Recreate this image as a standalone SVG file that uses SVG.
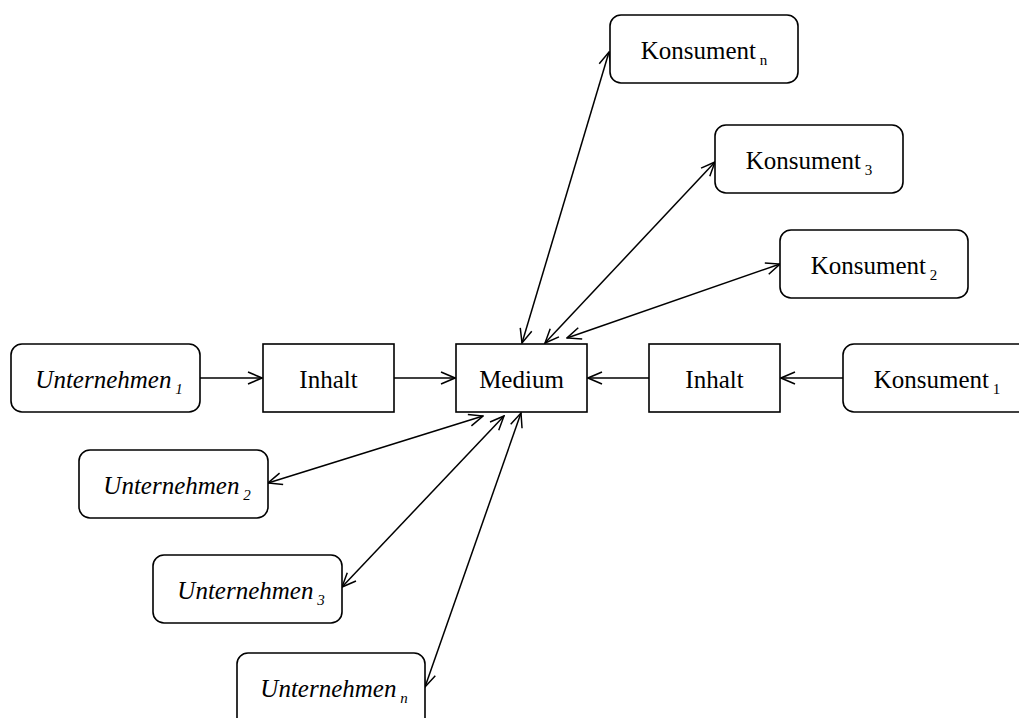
<svg xmlns="http://www.w3.org/2000/svg" width="1019" height="718" viewBox="0 0 1019 718" font-family="'Liberation Serif', 'Times New Roman', Times, serif">
<style>
.box{fill:#fff;stroke:#000;stroke-width:1.6}
.t{font-size:25px;fill:#000;text-anchor:middle}
.i{font-style:italic}
.sub{font-size:15px}
.c{stroke:#000;stroke-width:1.5;fill:none}
</style>
<defs>
<marker id="ah" viewBox="0 0 16 14" refX="15" refY="7" markerWidth="16" markerHeight="14" markerUnits="userSpaceOnUse" orient="auto-start-reverse">
<path d="M1,1 L15,7 L1,13" fill="none" stroke="#000" stroke-width="1.5"/>
</marker>
</defs>
<rect width="1019" height="718" fill="#fff"/>
<g id="connectors">
<line class="c" x1="200" y1="378" x2="262" y2="378" marker-end="url(#ah)"/>
<line class="c" x1="394" y1="378" x2="455" y2="378" marker-end="url(#ah)"/>
<line class="c" x1="649" y1="378" x2="588" y2="378" marker-end="url(#ah)"/>
<line class="c" x1="843" y1="378" x2="781" y2="378" marker-end="url(#ah)"/>
<line class="c" x1="522" y1="343" x2="609" y2="52" marker-start="url(#ah)" marker-end="url(#ah)"/>
<line class="c" x1="545" y1="343" x2="715" y2="162" marker-start="url(#ah)" marker-end="url(#ah)"/>
<line class="c" x1="567" y1="338" x2="780" y2="264" marker-start="url(#ah)" marker-end="url(#ah)"/>
<line class="c" x1="483" y1="416" x2="268" y2="483" marker-start="url(#ah)" marker-end="url(#ah)"/>
<line class="c" x1="504" y1="416" x2="342" y2="587" marker-start="url(#ah)" marker-end="url(#ah)"/>
<line class="c" x1="521" y1="413" x2="425" y2="687" marker-start="url(#ah)" marker-end="url(#ah)"/>
</g>
<g id="unternehmen1">
<rect class="box" x="11" y="344" width="189" height="68" rx="11"/>
<text class="t i" x="109" y="388" font-family="Liberation Serif, serif">Unternehmen<tspan class="sub" dy="6"> 1</tspan></text>
</g>
<g id="inhalt1">
<rect class="box" x="263" y="344" width="131" height="68"/>
<text class="t" x="328.5" y="388" font-family="Liberation Serif, serif">Inhalt</text>
</g>
<g id="medium">
<rect class="box" x="456" y="344" width="131" height="68"/>
<text class="t" x="521.5" y="388" font-family="Liberation Serif, serif">Medium</text>
</g>
<g id="inhalt2">
<rect class="box" x="649" y="344" width="131" height="68"/>
<text class="t" x="714.5" y="388" font-family="Liberation Serif, serif">Inhalt</text>
</g>
<g id="konsument1">
<rect class="box" x="843" y="344" width="188" height="68" rx="11"/>
<text class="t" x="937" y="388" font-family="Liberation Serif, serif">Konsument<tspan class="sub" dy="6"> 1</tspan></text>
</g>
<g id="konsumentn">
<rect class="box" x="610" y="15" width="188" height="68" rx="11"/>
<text class="t" x="704" y="59" font-family="Liberation Serif, serif">Konsument<tspan class="sub" dy="6"> n</tspan></text>
</g>
<g id="konsument3">
<rect class="box" x="715" y="125" width="188" height="68" rx="11"/>
<text class="t" x="809" y="169" font-family="Liberation Serif, serif">Konsument<tspan class="sub" dy="6"> 3</tspan></text>
</g>
<g id="konsument2">
<rect class="box" x="780" y="230" width="188" height="68" rx="11"/>
<text class="t" x="874" y="274" font-family="Liberation Serif, serif">Konsument<tspan class="sub" dy="6"> 2</tspan></text>
</g>
<g id="unternehmen2">
<rect class="box" x="79" y="450" width="189" height="68" rx="11"/>
<text class="t i" x="177" y="494" font-family="Liberation Serif, serif">Unternehmen<tspan class="sub" dy="6"> 2</tspan></text>
</g>
<g id="unternehmen3">
<rect class="box" x="153" y="555" width="189" height="68" rx="11"/>
<text class="t i" x="251" y="599" font-family="Liberation Serif, serif">Unternehmen<tspan class="sub" dy="6"> 3</tspan></text>
</g>
<g id="unternehmenn">
<rect class="box" x="237" y="653" width="188" height="80" rx="11"/>
<text class="t i" x="334" y="697" font-family="Liberation Serif, serif">Unternehmen<tspan class="sub" dy="6"> n</tspan></text>
</g>
</svg>
